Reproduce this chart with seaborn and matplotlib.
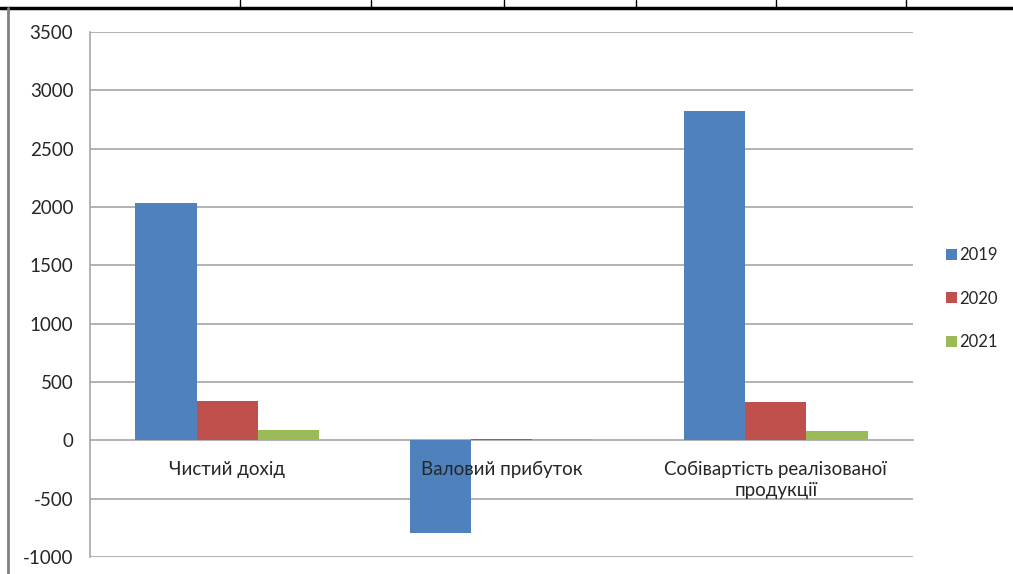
import numpy as np
import pandas as pd
import matplotlib
matplotlib.use("Agg")
import matplotlib.pyplot as plt
import seaborn as sns
from matplotlib.lines import Line2D

categories = ["Чистий дохід", "Валовий прибуток", "Собівартість реалізованої\nпродукції"]
years = ["2019", "2020", "2021"]
values_2019 = [2035, -790, 2820]
values_2020 = [334, 12, 326]
values_2021 = [86, 10, 77]
colors = ["#4F81BD", "#C0504D", "#9BBB59"]
yticks = [-1000, -500, 0, 500, 1000, 1500, 2000, 2500, 3000, 3500]

df = pd.DataFrame({
    "category": categories * 3,
    "year": [years[0]] * 3 + [years[1]] * 3 + [years[2]] * 3,
    "value": values_2019 + values_2020 + values_2021,
})

sns.set_style("white")
plt.rcParams["font.family"] = ["Lato", "DejaVu Sans"]
FS = 13.5

W, H = 1013, 574
fig = plt.figure(figsize=(W / 100, H / 100), dpi=100)
ax = fig.add_axes([90 / W, 1 - 557 / H, (913 - 90) / W, (557 - 32) / H])

sns.barplot(
    data=df, x="category", y="value", hue="year",
    palette=colors, saturation=1, width=0.67, gap=0,
    errorbar=None, linewidth=0, ax=ax, zorder=3,
)

ax.set_ylim(-1000, 3500)
ax.set_xlim(-0.5, 2.5)
ax.set_yticks(yticks)
ax.set_yticklabels([str(v) for v in yticks], fontsize=FS)
ax.set_xlabel("")
ax.set_ylabel("")

# gridlines
for v in yticks:
    if v != 0:
        ax.axhline(v, color="#a6a6a6", lw=1.2, zorder=0)

ax.set_axisbelow(True)
ax.xaxis.set_zorder(4)

for s in ["top", "right"]:
    ax.spines[s].set_visible(False)
ax.spines["bottom"].set_position(("data", 0))
ax.spines["bottom"].set_color("#a6a6a6")
ax.spines["bottom"].set_linewidth(1.2)
ax.spines["left"].set_color("#a6a6a6")
ax.spines["left"].set_linewidth(1.2)

ax.set_xticks([0, 1, 2])
ax.set_xticklabels(categories, fontsize=FS, linespacing=1.3)
ax.set_xticks([0.5, 1.5, 2.5], minor=True)
ax.tick_params(axis="x", which="major", length=0, pad=15)
ax.tick_params(axis="x", which="minor", length=8, width=1.2, color="#8c8c8c", direction="out")
ax.tick_params(axis="y", length=6, width=1.2, color="#a6a6a6", direction="out", pad=6)

handles, labels = ax.get_legend_handles_labels()
ax.get_legend().remove()
fig.legend(
    handles, labels, loc="upper left",
    bbox_to_anchor=(931 / W, 1 - 232 / H),
    frameon=False, fontsize=12,
    handlelength=0.65, handleheight=0.65, handletextpad=0.15,
    labelspacing=1.65,
)

# surrounding table borders
fig.add_artist(Line2D([0, 1], [1 - 8 / H, 1 - 8 / H], color="black", lw=2.5, transform=fig.transFigure))
for x in [240, 371, 504, 636, 776, 906]:
    fig.add_artist(Line2D([x / W, x / W], [1, 1 - 8 / H], color="black", lw=1, transform=fig.transFigure))
fig.add_artist(Line2D([8 / W, 8 / W], [0, 1 - 8 / H], color="#808080", lw=2, transform=fig.transFigure))

fig.savefig("out.png", dpi=100)
